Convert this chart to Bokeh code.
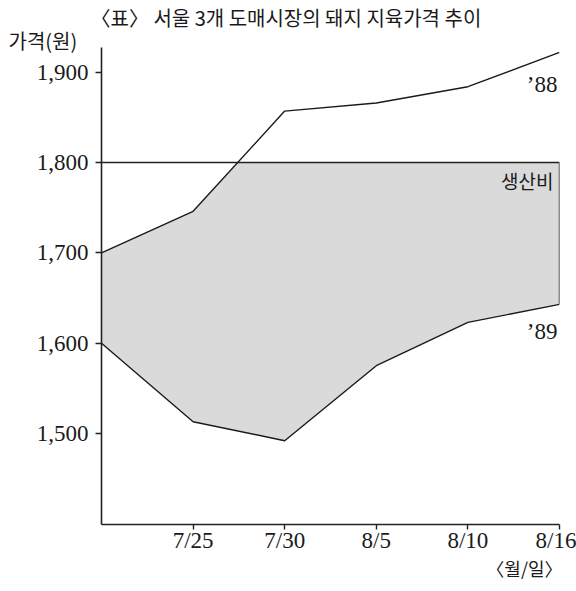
from bokeh.plotting import figure
from bokeh.models import FixedTicker, NumeralTickFormatter, Label, Range1d, Title
from bokeh.embed import file_html
from bokeh.resources import INLINE

# ---- data ----
x_labels = ["", "7/25", "7/30", "8/5", "8/10", "8/16"]
price_88 = [1700, 1746, 1857, 1866, 1884, 1922]
price_89 = [1600, 1513, 1492, 1575, 1623, 1643]
cost = 1800
y_ticks = [1500, 1600, 1700, 1800, 1900]

title_text = "〈표〉 서울 3개 도매시장의 돼지 지육가격 추이"
y_label_text = "가격(원)"
x_label_text = "〈월/일〉"
cost_label = "생산비"
label_88 = "’88"
label_89 = "’89"

xs = list(range(len(x_labels)))

# shaded polygon: between '89 line and min('88, cost)
upper_x, upper_y = [], []
for i in range(len(xs)):
    upper_x.append(xs[i]); upper_y.append(min(price_88[i], cost))
    if i + 1 < len(xs):
        a, b = price_88[i], price_88[i + 1]
        if (a - cost) * (b - cost) < 0:
            t = (cost - a) / (b - a)
            upper_x.append(xs[i] + t); upper_y.append(cost)
poly_x = upper_x + xs[::-1]
poly_y = upper_y + price_89[::-1]

SERIF = "Liberation Serif"
KR = "Noto Sans CJK KR"
INK = "#1a1a1a"

p = figure(width=576, height=591, output_backend="svg", toolbar_location=None,
           x_range=Range1d(0, 5), y_range=Range1d(1399.2, 1927.4),
           min_border_left=101, min_border_right=17, min_border_top=47, min_border_bottom=67)
p.outline_line_color = None
p.xgrid.visible = False
p.ygrid.visible = False
p.background_fill_color = "white"

p.patch(poly_x, poly_y, fill_color="#dadada", line_color=None)
p.line([xs[0], xs[-1]], [cost, cost], line_color="#222222", line_width=1.4)
p.line([xs[-1], xs[-1]], [cost, price_89[-1]], line_color="#222222", line_width=1.4)
p.line(xs, price_88, line_color=INK, line_width=1.4)
p.line(xs, price_89, line_color=INK, line_width=1.4)

# axes
for ax in (p.xaxis[0], p.yaxis[0]):
    ax.axis_line_color = "#222222"
    ax.axis_line_width = 1.6
    ax.major_tick_line_color = "#222222"
    ax.major_tick_line_width = 1.4
    ax.minor_tick_line_color = None
    ax.major_tick_in = 0
    ax.major_label_text_font = SERIF
    ax.major_label_text_font_size = "23px"
    ax.major_label_text_color = INK

p.xaxis.ticker = FixedTicker(ticks=xs[1:])
p.xaxis.major_label_overrides = {i: x_labels[i] for i in xs[1:]}
p.xaxis.major_tick_out = 5
p.xaxis.major_label_standoff = -2

p.yaxis.ticker = FixedTicker(ticks=y_ticks)
p.yaxis.formatter = NumeralTickFormatter(format="0,0")
p.yaxis.major_tick_out = 6
p.yaxis.major_label_standoff = 7

# titles (outside the frame)
t_ylab = Title(text=y_label_text, align="left", text_font=KR, text_font_size="20px",
               text_font_style="normal", text_color=INK, offset=-93, standoff=-15)
t_main = Title(text=title_text, align="left", text_font=KR, text_font_size="20px",
               text_font_style="normal", text_color=INK, offset=-11, standoff=0)
p.add_layout(t_ylab, "above")
p.add_layout(t_main, "above")
t_xlab = Title(text=x_label_text, align="right", text_font=KR, text_font_size="18px",
               text_font_style="normal", text_color=INK, offset=-3, standoff=-6)
p.add_layout(t_xlab, "below")

def ypix(v_px):
    return 1927.4 - (v_px - 47) * (528.2 / 477.0)

def xpix(px):
    return (px - 101) * (5 / 458.0)

p.add_layout(Label(x=xpix(553), y=ypix(180), text=cost_label, text_font=KR,
                   text_font_size="19px", text_align="right", text_baseline="middle",
                   text_color=INK))
p.add_layout(Label(x=xpix(557), y=ypix(84), text=label_88, text_font=SERIF,
                   text_font_size="23px", text_align="right", text_baseline="middle",
                   text_color=INK))
p.add_layout(Label(x=xpix(557), y=ypix(331), text=label_89, text_font=SERIF,
                   text_font_size="23px", text_align="right", text_baseline="middle",
                   text_color=INK))

open("out.html", "w").write(file_html(p, INLINE))
